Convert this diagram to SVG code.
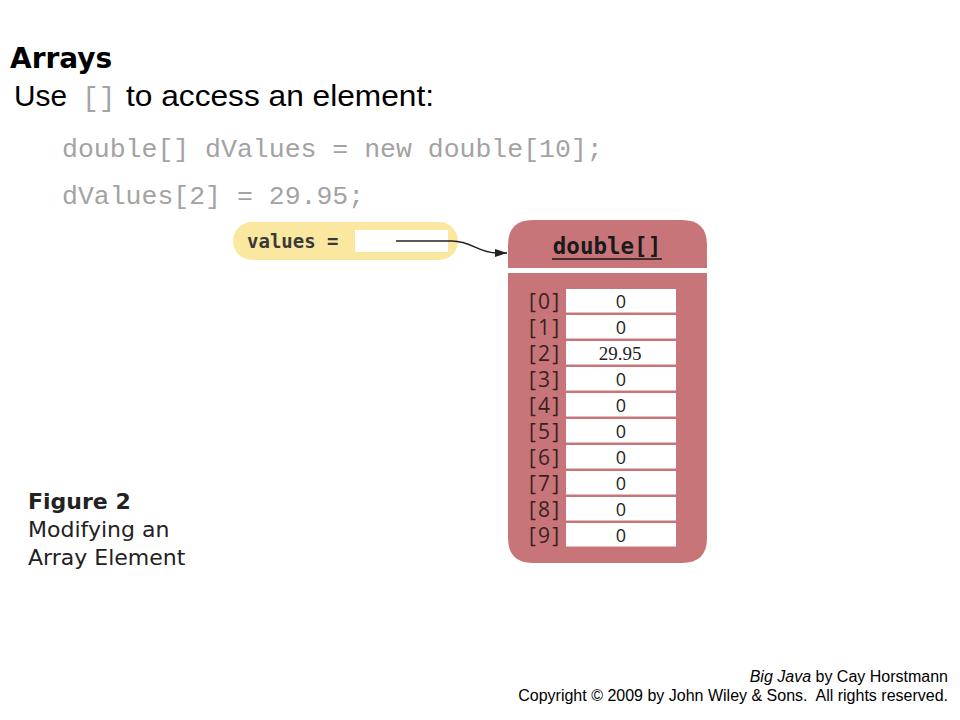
<svg xmlns="http://www.w3.org/2000/svg" width="960" height="720" viewBox="0 0 960 720">
<style>
.title{font-family:"DejaVu Sans",sans-serif;font-weight:bold;font-size:28px;fill:#000}
.sub{font-family:"Liberation Sans",Arial,sans-serif;font-size:30px;fill:#000}
.code{font-family:"Liberation Mono","Courier New",monospace;fill:#a3a3a3}
.idx{font-family:"Open Sans","DejaVu Sans",sans-serif;font-size:21px;fill:#3a1f1f}
.val{font-family:"Open Sans","DejaVu Sans",sans-serif;font-size:18px;fill:#222;text-anchor:middle}
.cell{fill:#fff}
.cap{font-family:"DejaVu Sans",sans-serif;font-size:22px;fill:#222}
.foot{font-family:"Liberation Sans",Arial,sans-serif;font-size:16px;fill:#000;text-anchor:end}
</style>
<defs>
<marker id="ah" markerWidth="12" markerHeight="8" refX="12" refY="4" orient="auto" markerUnits="userSpaceOnUse">
<path d="M0,0 L12,4 L0,8 Z" fill="#222"/>
</marker>
</defs>
<rect width="960" height="720" fill="#fff"/>

<g id="heading">
<text class="title" x="10" y="68">Arrays</text>
<text class="sub" x="14" y="106" textLength="53" lengthAdjust="spacingAndGlyphs">Use</text>
<text class="code" font-size="28" x="82" y="106">[]</text>
<text class="sub" x="126" y="106" textLength="308" lengthAdjust="spacingAndGlyphs">to access an element:</text>
<text class="code" font-size="26.5" x="62" y="157">double[] dValues = new double[10];</text>
<text class="code" font-size="26.5" x="62" y="204">dValues[2] = 29.95;</text>
</g>

<g id="values-var">
<rect x="233" y="222" width="225" height="38" rx="19" fill="#fae7a0"/>
<rect x="355" y="230" width="93" height="22" fill="#fff"/>
<text x="247" y="248" font-family="'DejaVu Sans Mono',monospace" font-weight="bold" font-size="19" fill="#3a3a3a">values =</text>
</g>

<g id="array">
<path d="M508,245 Q508,220 533,220 H682 Q707,220 707,245 V538 Q707,563 682,563 H533 Q508,563 508,538 Z" fill="#c8757a"/>
<rect x="508" y="268" width="199" height="5" fill="#fff"/>
<text x="607" y="254" font-family="'DejaVu Sans Mono',monospace" font-weight="bold" font-size="22.5" fill="#1a1a1a" text-anchor="middle">double[]</text>
<line x1="552" y1="259" x2="662" y2="259" stroke="#1a1a1a" stroke-width="1.5"/>
<g>
<rect class="cell" x="566" y="289" width="110" height="23.5"/><text class="idx" x="529" y="309" textLength="30">[0]</text><text class="val" x="621" y="308">0</text>
<rect class="cell" x="566" y="315" width="110" height="23.5"/><text class="idx" x="529" y="335" textLength="30">[1]</text><text class="val" x="621" y="334">0</text>
<rect class="cell" x="566" y="341" width="110" height="23.5"/><text class="idx" x="529" y="361" textLength="30">[2]</text><text x="620" y="360" font-family="'Liberation Serif',serif" font-size="19" fill="#222" text-anchor="middle">29.95</text>
<rect class="cell" x="566" y="367" width="110" height="23.5"/><text class="idx" x="529" y="387" textLength="30">[3]</text><text class="val" x="621" y="386">0</text>
<rect class="cell" x="566" y="393" width="110" height="23.5"/><text class="idx" x="529" y="413" textLength="30">[4]</text><text class="val" x="621" y="412">0</text>
<rect class="cell" x="566" y="419" width="110" height="23.5"/><text class="idx" x="529" y="439" textLength="30">[5]</text><text class="val" x="621" y="438">0</text>
<rect class="cell" x="566" y="445" width="110" height="23.5"/><text class="idx" x="529" y="465" textLength="30">[6]</text><text class="val" x="621" y="464">0</text>
<rect class="cell" x="566" y="471" width="110" height="23.5"/><text class="idx" x="529" y="491" textLength="30">[7]</text><text class="val" x="621" y="490">0</text>
<rect class="cell" x="566" y="497" width="110" height="23.5"/><text class="idx" x="529" y="517" textLength="30">[8]</text><text class="val" x="621" y="516">0</text>
<rect class="cell" x="566" y="523" width="110" height="23.5"/><text class="idx" x="529" y="543" textLength="30">[9]</text><text class="val" x="621" y="542">0</text>
</g>
</g>

<g id="connectors">
<path d="M396,241 H452 C472,241 478,253 497,253 H507" fill="none" stroke="#222" stroke-width="1.5" marker-end="url(#ah)"/>
</g>

<g id="caption">
<text class="cap" x="28" y="509" font-weight="bold" font-size="20.5">Figure 2</text>
<text class="cap" x="28" y="537">Modifying an</text>
<text class="cap" x="28" y="565">Array Element</text>
</g>

<g id="footer">
<text class="foot" x="948" y="682"><tspan font-style="italic">Big Java</tspan> by Cay Horstmann</text>
<text class="foot" x="948" y="701" xml:space="preserve">Copyright © 2009 by John Wiley &amp; Sons.  All rights reserved.</text>
</g>
</svg>
